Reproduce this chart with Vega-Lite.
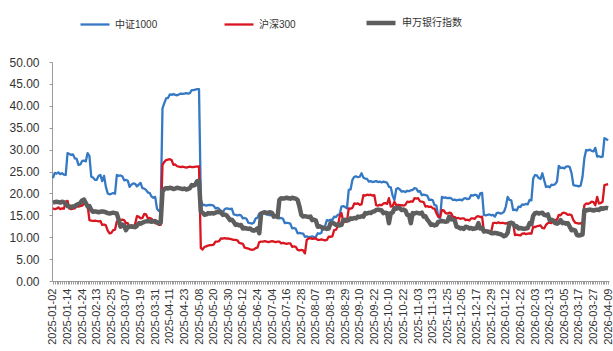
{
  "$schema": "https://vega.github.io/schema/vega-lite/v6.json",
  "width": 557,
  "height": 219,
  "autosize": "none",
  "padding": {"left": 52, "top": 62, "right": 4, "bottom": 70},
  "background": "white",
  "config": {"view": {"stroke": null}, "font": "Liberation Sans, Noto Sans CJK SC"},
  "data": {"values": [
{"d":"2025-01-02","中证1000":23.5,"沪深300":16.6,"申万银行指数":17.9},
{"d":"2025-01-03","中证1000":24.7,"沪深300":16.4,"申万银行指数":18.0},
{"d":"2025-01-06","中证1000":24.5,"沪深300":16.5,"申万银行指数":18.1},
{"d":"2025-01-07","中证1000":24.8,"沪深300":16.8,"申万银行指数":18.0},
{"d":"2025-01-08","中证1000":24.4,"沪深300":16.4,"申万银行指数":17.9},
{"d":"2025-01-09","中证1000":24.6,"沪深300":16.6,"申万银行指数":18.1},
{"d":"2025-01-10","中证1000":24.3,"沪深300":16.5,"申万银行指数":18.0},
{"d":"2025-01-13","中证1000":24.2,"沪深300":18.1,"申万银行指数":17.6},
{"d":"2025-01-14","中证1000":29.2,"沪深300":18.3,"申万银行指数":17.1},
{"d":"2025-01-15","中证1000":29.0,"沪深300":16.5,"申万银行指数":17.0},
{"d":"2025-01-16","中证1000":28.8,"沪深300":16.4,"申万银行指数":16.9},
{"d":"2025-01-17","中证1000":28.9,"沪深300":16.5,"申万银行指数":17.0},
{"d":"2025-01-20","中证1000":28.0,"沪深300":16.6,"申万银行指数":17.1},
{"d":"2025-01-21","中证1000":27.9,"沪深300":17.0,"申万银行指数":17.4},
{"d":"2025-01-22","中证1000":26.5,"沪深300":17.0,"申万银行指数":17.6},
{"d":"2025-01-23","中证1000":26.6,"沪深300":17.1,"申万银行指数":17.8},
{"d":"2025-01-24","中证1000":27.4,"沪深300":17.2,"申万银行指数":18.4},
{"d":"2025-01-27","中证1000":27.5,"沪深300":17.7,"申万银行指数":18.6},
{"d":"2025-02-05","中证1000":27.3,"沪深300":17.6,"申万银行指数":17.8},
{"d":"2025-02-06","中证1000":29.2,"沪深300":17.2,"申万银行指数":17.0},
{"d":"2025-02-07","中证1000":28.5,"沪深300":13.9,"申万银行指数":17.1},
{"d":"2025-02-10","中证1000":23.8,"沪深300":13.8,"申万银行指数":16.2},
{"d":"2025-02-11","中证1000":23.6,"沪深300":13.7,"申万银行指数":15.8},
{"d":"2025-02-12","中证1000":23.1,"沪深300":13.8,"申万银行指数":15.9},
{"d":"2025-02-13","中证1000":23.1,"沪深300":13.7,"申万银行指数":15.8},
{"d":"2025-02-14","中证1000":24.0,"沪深300":13.6,"申万银行指数":15.7},
{"d":"2025-02-17","中证1000":24.2,"沪深300":13.7,"申万银行指数":15.8},
{"d":"2025-02-18","中证1000":22.8,"沪深300":12.8,"申万银行指数":15.9},
{"d":"2025-02-19","中证1000":24.0,"沪深300":12.9,"申万银行指数":15.8},
{"d":"2025-02-20","中证1000":21.5,"沪深300":12.7,"申万银行指数":15.7},
{"d":"2025-02-21","中证1000":20.0,"沪深300":11.5,"申万银行指数":15.5},
{"d":"2025-02-24","中证1000":19.8,"沪深300":10.9,"申万银行指数":15.4},
{"d":"2025-02-25","中证1000":19.9,"沪深300":11.0,"申万银行指数":15.5},
{"d":"2025-02-26","中证1000":20.1,"沪深300":11.6,"申万银行指数":15.6},
{"d":"2025-02-27","中证1000":19.9,"沪深300":11.7,"申万银行指数":15.5},
{"d":"2025-02-28","中证1000":24.2,"沪深300":13.6,"申万银行指数":15.4},
{"d":"2025-03-03","中证1000":24.0,"沪深300":13.9,"申万银行指数":14.0},
{"d":"2025-03-04","中证1000":24.1,"沪深300":13.9,"申万银行指数":12.4},
{"d":"2025-03-05","中证1000":23.9,"沪深300":14.0,"申万银行指数":12.9},
{"d":"2025-03-06","中证1000":23.0,"沪深300":13.9,"申万银行指数":12.7},
{"d":"2025-03-07","中证1000":23.1,"沪深300":13.2,"申万银行指数":11.6},
{"d":"2025-03-10","中证1000":22.9,"沪深300":13.2,"申万银行指数":12.3},
{"d":"2025-03-11","中证1000":21.5,"沪深300":12.2,"申万银行指数":12.4},
{"d":"2025-03-12","中证1000":22.0,"沪深300":12.3,"申万银行指数":12.5},
{"d":"2025-03-13","中证1000":22.3,"沪深300":12.1,"申万银行指数":12.4},
{"d":"2025-03-14","中证1000":22.2,"沪深300":13.0,"申万银行指数":12.3},
{"d":"2025-03-17","中证1000":21.6,"沪深300":14.8,"申万银行指数":12.6},
{"d":"2025-03-18","中证1000":22.0,"沪深300":14.7,"申万银行指数":13.2},
{"d":"2025-03-19","中证1000":22.4,"沪深300":14.3,"申万银行指数":13.1},
{"d":"2025-03-20","中证1000":21.2,"沪深300":14.4,"申万银行指数":13.3},
{"d":"2025-03-21","中证1000":21.1,"沪深300":15.3,"申万银行指数":13.5},
{"d":"2025-03-24","中证1000":20.8,"沪深300":15.2,"申万银行指数":13.6},
{"d":"2025-03-25","中证1000":20.2,"沪深300":14.3,"申万银行指数":13.7},
{"d":"2025-03-26","中证1000":20.1,"沪深300":14.4,"申万银行指数":13.6},
{"d":"2025-03-27","中证1000":19.3,"沪深300":14.2,"申万银行指数":13.5},
{"d":"2025-03-28","中证1000":19.0,"沪深300":13.7,"申万银行指数":13.6},
{"d":"2025-03-31","中证1000":19.2,"沪深300":13.2,"申万银行指数":13.7},
{"d":"2025-04-01","中证1000":16.5,"沪深300":13.1,"申万银行指数":13.4},
{"d":"2025-04-02","中证1000":16.0,"沪深300":12.8,"申万银行指数":13.2},
{"d":"2025-04-03","中证1000":16.2,"沪深300":12.8,"申万银行指数":13.3},
{"d":"2025-04-07","中证1000":39.4,"沪深300":26.5,"申万银行指数":20.4},
{"d":"2025-04-08","中证1000":40.6,"沪深300":27.2,"申万银行指数":21.0},
{"d":"2025-04-09","中证1000":41.7,"沪深300":27.6,"申万银行指数":21.2},
{"d":"2025-04-10","中证1000":41.8,"沪深300":27.7,"申万银行指数":21.1},
{"d":"2025-04-11","中证1000":42.6,"沪深300":27.8,"申万银行指数":21.3},
{"d":"2025-04-14","中证1000":42.5,"沪深300":27.6,"申万银行指数":21.2},
{"d":"2025-04-15","中证1000":42.7,"沪深300":26.5,"申万银行指数":21.0},
{"d":"2025-04-16","中证1000":42.5,"沪深300":26.6,"申万银行指数":21.1},
{"d":"2025-04-17","中证1000":42.4,"沪深300":26.2,"申万银行指数":21.3},
{"d":"2025-04-18","中证1000":42.6,"沪深300":26.1,"申万银行指数":21.2},
{"d":"2025-04-21","中证1000":42.8,"沪深300":26.0,"申万银行指数":21.1},
{"d":"2025-04-22","中证1000":42.7,"沪深300":26.1,"申万银行指数":21.0},
{"d":"2025-04-23","中证1000":42.8,"沪深300":26.0,"申万银行指数":21.1},
{"d":"2025-04-24","中证1000":42.9,"沪深300":25.9,"申万银行指数":20.9},
{"d":"2025-04-25","中证1000":42.8,"沪深300":26.0,"申万银行指数":21.0},
{"d":"2025-04-28","中证1000":42.9,"沪深300":26.1,"申万银行指数":21.2},
{"d":"2025-04-29","中证1000":43.6,"沪深300":26.0,"申万银行指数":21.9},
{"d":"2025-04-30","中证1000":43.6,"沪深300":26.0,"申万银行指数":21.8},
{"d":"2025-05-06","中证1000":43.7,"沪深300":26.1,"申万银行指数":22.0},
{"d":"2025-05-07","中证1000":43.8,"沪深300":26.1,"申万银行指数":22.8},
{"d":"2025-05-08","中证1000":43.8,"沪深300":26.2,"申万银行指数":22.9},
{"d":"2025-05-09","中证1000":18.5,"沪深300":7.5,"申万银行指数":15.8},
{"d":"2025-05-12","中证1000":17.3,"沪深300":7.2,"申万银行指数":15.6},
{"d":"2025-05-13","中证1000":17.4,"沪深300":7.8,"申万银行指数":15.1},
{"d":"2025-05-14","中证1000":17.2,"沪深300":7.9,"申万银行指数":15.2},
{"d":"2025-05-15","中证1000":17.3,"沪深300":8.1,"申万银行指数":15.5},
{"d":"2025-05-16","中证1000":17.4,"沪深300":8.2,"申万银行指数":15.4},
{"d":"2025-05-19","中证1000":17.3,"沪深300":8.2,"申万银行指数":15.5},
{"d":"2025-05-20","中证1000":17.2,"沪深300":8.3,"申万银行指数":15.4},
{"d":"2025-05-21","中证1000":16.6,"沪深300":9.0,"申万银行指数":15.6},
{"d":"2025-05-22","中证1000":16.7,"沪深300":9.0,"申万银行指数":15.8},
{"d":"2025-05-23","中证1000":16.5,"沪深300":9.1,"申万银行指数":15.7},
{"d":"2025-05-26","中证1000":15.5,"沪深300":9.7,"申万银行指数":15.8},
{"d":"2025-05-27","中证1000":15.6,"沪深300":9.7,"申万银行指数":15.1},
{"d":"2025-05-28","中证1000":16.4,"沪深300":9.8,"申万银行指数":15.2},
{"d":"2025-05-29","中证1000":16.6,"沪深300":9.7,"申万银行指数":15.0},
{"d":"2025-05-30","中证1000":16.5,"沪深300":9.7,"申万银行指数":14.5},
{"d":"2025-06-03","中证1000":16.4,"沪深300":9.6,"申万银行指数":13.9},
{"d":"2025-06-04","中证1000":16.5,"沪深300":9.5,"申万银行指数":14.0},
{"d":"2025-06-05","中证1000":15.2,"沪深300":9.4,"申万银行指数":13.5},
{"d":"2025-06-06","中证1000":15.1,"沪深300":9.4,"申万银行指数":12.8},
{"d":"2025-06-09","中证1000":15.0,"沪深300":9.3,"申万银行指数":12.9},
{"d":"2025-06-10","中证1000":15.1,"沪深300":8.7,"申万银行指数":12.7},
{"d":"2025-06-11","中证1000":15.0,"沪深300":8.6,"申万银行指数":12.8},
{"d":"2025-06-12","中证1000":14.3,"沪深300":8.5,"申万银行指数":12.0},
{"d":"2025-06-13","中证1000":14.4,"沪深300":7.6,"申万银行指数":12.1},
{"d":"2025-06-16","中证1000":14.2,"沪深300":7.5,"申万银行指数":12.0},
{"d":"2025-06-17","中证1000":13.3,"沪深300":7.4,"申万银行指数":11.9},
{"d":"2025-06-18","中证1000":13.2,"沪深300":7.2,"申万银行指数":12.0},
{"d":"2025-06-19","中证1000":13.1,"沪深300":7.1,"申万银行指数":11.6},
{"d":"2025-06-20","中证1000":13.3,"沪深300":7.2,"申万银行指数":11.5},
{"d":"2025-06-23","中证1000":14.3,"沪深300":7.5,"申万银行指数":11.7},
{"d":"2025-06-24","中证1000":14.4,"沪深300":7.6,"申万银行指数":12.0},
{"d":"2025-06-25","中证1000":15.4,"沪深300":8.9,"申万银行指数":10.9},
{"d":"2025-06-26","中证1000":15.5,"沪深300":9.0,"申万银行指数":15.4},
{"d":"2025-06-27","中证1000":15.6,"沪深300":9.0,"申万银行指数":15.6},
{"d":"2025-06-30","中证1000":15.4,"沪深300":9.1,"申万银行指数":15.7},
{"d":"2025-07-01","中证1000":15.2,"沪深300":9.0,"申万银行指数":15.5},
{"d":"2025-07-02","中证1000":15.1,"沪深300":8.9,"申万银行指数":15.6},
{"d":"2025-07-03","中证1000":15.0,"沪深300":9.0,"申万银行指数":15.7},
{"d":"2025-07-04","中证1000":15.2,"沪深300":9.1,"申万银行指数":15.5},
{"d":"2025-07-07","中证1000":15.1,"沪深300":9.0,"申万银行指数":14.7},
{"d":"2025-07-08","中证1000":15.0,"沪深300":8.9,"申万银行指数":14.8},
{"d":"2025-07-09","中证1000":15.1,"沪深300":9.0,"申万银行指数":14.6},
{"d":"2025-07-10","中证1000":14.3,"沪深300":9.0,"申万银行指数":18.5},
{"d":"2025-07-11","中证1000":14.4,"沪深300":8.6,"申万银行指数":18.9},
{"d":"2025-07-14","中证1000":14.2,"沪深300":8.7,"申万银行指数":18.8},
{"d":"2025-07-15","中证1000":13.2,"沪深300":8.6,"申万银行指数":18.9},
{"d":"2025-07-16","中证1000":13.3,"沪深300":8.5,"申万银行指数":19.0},
{"d":"2025-07-17","中证1000":13.2,"沪深300":8.6,"申万银行指数":18.9},
{"d":"2025-07-18","中证1000":13.1,"沪深300":8.6,"申万银行指数":18.8},
{"d":"2025-07-21","中证1000":12.0,"沪深300":7.8,"申万银行指数":19.0},
{"d":"2025-07-22","中证1000":12.1,"沪深300":7.9,"申万银行指数":18.9},
{"d":"2025-07-23","中证1000":11.9,"沪深300":7.8,"申万银行指数":18.8},
{"d":"2025-07-24","中证1000":10.9,"沪深300":7.1,"申万银行指数":18.5},
{"d":"2025-07-25","中证1000":11.0,"沪深300":7.0,"申万银行指数":17.0},
{"d":"2025-07-28","中证1000":10.9,"沪深300":7.1,"申万银行指数":15.1},
{"d":"2025-07-29","中证1000":10.8,"沪深300":7.0,"申万银行指数":14.7},
{"d":"2025-07-30","中证1000":10.1,"沪深300":6.3,"申万银行指数":14.8},
{"d":"2025-07-31","中证1000":10.2,"沪深300":9.4,"申万银行指数":14.7},
{"d":"2025-08-01","中证1000":10.0,"沪深300":9.7,"申万银行指数":14.6},
{"d":"2025-08-04","中证1000":10.1,"沪深300":9.8,"申万银行指数":14.7},
{"d":"2025-08-05","中证1000":10.2,"沪深300":9.6,"申万银行指数":13.9},
{"d":"2025-08-06","中证1000":10.0,"沪深300":9.7,"申万银行指数":14.0},
{"d":"2025-08-07","中证1000":10.1,"沪深300":9.7,"申万银行指数":13.8},
{"d":"2025-08-08","中证1000":10.9,"沪深300":9.4,"申万银行指数":12.4},
{"d":"2025-08-11","中证1000":10.8,"沪深300":9.4,"申万银行指数":12.5},
{"d":"2025-08-12","中证1000":11.0,"沪深300":9.5,"申万银行指数":12.3},
{"d":"2025-08-13","中证1000":12.4,"沪深300":9.4,"申万银行指数":12.0},
{"d":"2025-08-14","中证1000":12.5,"沪深300":9.3,"申万银行指数":12.1},
{"d":"2025-08-15","中证1000":13.9,"沪深300":9.4,"申万银行指数":11.9},
{"d":"2025-08-18","中证1000":13.8,"沪深300":10.1,"申万银行指数":12.0},
{"d":"2025-08-19","中证1000":14.0,"沪深300":10.1,"申万银行指数":13.2},
{"d":"2025-08-20","中证1000":13.9,"沪深300":10.2,"申万银行指数":13.3},
{"d":"2025-08-21","中证1000":14.7,"沪深300":11.6,"申万银行指数":13.1},
{"d":"2025-08-22","中证1000":14.6,"沪深300":11.7,"申万银行指数":12.8},
{"d":"2025-08-25","中证1000":15.1,"沪深300":12.5,"申万银行指数":12.9},
{"d":"2025-08-26","中证1000":15.2,"沪深300":14.7,"申万银行指数":12.7},
{"d":"2025-08-27","中证1000":17.0,"沪深300":15.5,"申万银行指数":12.8},
{"d":"2025-08-28","中证1000":17.1,"沪深300":13.6,"申万银行指数":13.9},
{"d":"2025-08-29","中证1000":16.9,"沪深300":13.5,"申万银行指数":14.0},
{"d":"2025-09-01","中证1000":16.6,"沪深300":13.6,"申万银行指数":13.8},
{"d":"2025-09-02","中证1000":20.8,"沪深300":16.6,"申万银行指数":13.9},
{"d":"2025-09-03","中证1000":20.9,"沪深300":16.5,"申万银行指数":14.3},
{"d":"2025-09-04","中证1000":23.1,"沪深300":16.7,"申万银行指数":14.2},
{"d":"2025-09-05","中证1000":23.8,"沪深300":17.7,"申万银行指数":14.4},
{"d":"2025-09-08","中证1000":23.9,"沪深300":17.6,"申万银行指数":14.3},
{"d":"2025-09-09","中证1000":23.7,"沪深300":17.7,"申万银行指数":14.7},
{"d":"2025-09-10","中证1000":23.8,"沪深300":17.4,"申万银行指数":14.6},
{"d":"2025-09-11","中证1000":24.6,"沪深300":17.5,"申万银行指数":14.8},
{"d":"2025-09-12","中证1000":23.6,"沪深300":19.6,"申万银行指数":14.7},
{"d":"2025-09-15","中证1000":23.4,"沪深300":19.5,"申万银行指数":15.5},
{"d":"2025-09-16","中证1000":23.3,"沪深300":19.7,"申万银行指数":15.4},
{"d":"2025-09-17","中证1000":22.7,"沪深300":19.6,"申万银行指数":15.6},
{"d":"2025-09-18","中证1000":22.8,"沪深300":19.7,"申万银行指数":15.5},
{"d":"2025-09-19","中证1000":22.6,"沪深300":19.5,"申万银行指数":15.8},
{"d":"2025-09-22","中证1000":22.7,"沪深300":19.6,"申万银行指数":15.9},
{"d":"2025-09-23","中证1000":22.8,"沪深300":17.3,"申万银行指数":16.2},
{"d":"2025-09-24","中证1000":22.6,"沪深300":17.2,"申万银行指数":16.3},
{"d":"2025-09-25","中证1000":22.7,"沪深300":17.4,"申万银行指数":16.2},
{"d":"2025-09-26","中证1000":22.5,"沪深300":17.3,"申万银行指数":16.1},
{"d":"2025-09-29","中证1000":22.7,"沪深300":17.7,"申万银行指数":15.5},
{"d":"2025-09-30","中证1000":22.6,"沪深300":17.8,"申万银行指数":15.6},
{"d":"2025-10-09","中证1000":22.4,"沪深300":17.6,"申万银行指数":15.5},
{"d":"2025-10-10","中证1000":21.5,"沪深300":18.9,"申万银行指数":13.2},
{"d":"2025-10-13","中证1000":21.4,"沪深300":17.0,"申万银行指数":15.5},
{"d":"2025-10-14","中证1000":19.5,"沪深300":17.1,"申万银行指数":15.6},
{"d":"2025-10-15","中证1000":18.5,"沪深300":18.1,"申万银行指数":16.6},
{"d":"2025-10-16","中证1000":21.0,"沪深300":17.3,"申万银行指数":16.5},
{"d":"2025-10-17","中证1000":21.2,"沪深300":17.4,"申万银行指数":16.7},
{"d":"2025-10-20","中证1000":20.9,"沪深300":17.3,"申万银行指数":16.6},
{"d":"2025-10-21","中证1000":20.4,"沪深300":17.3,"申万银行指数":16.2},
{"d":"2025-10-22","中证1000":20.5,"沪深300":17.2,"申万银行指数":16.3},
{"d":"2025-10-23","中证1000":20.3,"沪深300":17.4,"申万银行指数":16.1},
{"d":"2025-10-24","中证1000":20.6,"沪深300":18.1,"申万银行指数":15.1},
{"d":"2025-10-27","中证1000":20.5,"沪深300":18.0,"申万银行指数":15.0},
{"d":"2025-10-28","中证1000":20.7,"沪深300":18.2,"申万银行指数":13.2},
{"d":"2025-10-29","中证1000":20.8,"沪深300":18.1,"申万银行指数":15.5},
{"d":"2025-10-30","中证1000":21.2,"沪深300":18.9,"申万银行指数":15.4},
{"d":"2025-10-31","中证1000":21.1,"沪深300":18.8,"申万银行指数":15.6},
{"d":"2025-11-03","中证1000":20.4,"沪深300":18.9,"申万银行指数":15.5},
{"d":"2025-11-04","中证1000":20.5,"沪深300":18.2,"申万银行指数":15.4},
{"d":"2025-11-05","中证1000":19.6,"沪深300":18.1,"申万银行指数":15.6},
{"d":"2025-11-06","中证1000":19.7,"沪深300":18.0,"申万银行指数":14.7},
{"d":"2025-11-07","中证1000":19.6,"沪深300":17.0,"申万银行指数":14.8},
{"d":"2025-11-10","中证1000":19.5,"沪深300":17.1,"申万银行指数":14.0},
{"d":"2025-11-11","中证1000":18.5,"沪深300":16.9,"申万银行指数":13.5},
{"d":"2025-11-12","中证1000":18.6,"沪深300":17.0,"申万银行指数":12.8},
{"d":"2025-11-13","中证1000":18.4,"沪深300":16.6,"申万银行指数":12.9},
{"d":"2025-11-14","中证1000":17.3,"沪深300":16.5,"申万银行指数":12.7},
{"d":"2025-11-17","中证1000":17.2,"沪深300":15.5,"申万银行指数":12.8},
{"d":"2025-11-18","中证1000":14.7,"沪深300":14.7,"申万银行指数":13.5},
{"d":"2025-11-19","中证1000":14.3,"沪深300":14.6,"申万银行指数":13.6},
{"d":"2025-11-20","中证1000":19.2,"沪深300":16.2,"申万银行指数":13.7},
{"d":"2025-11-21","中证1000":19.0,"沪深300":16.1,"申万银行指数":13.6},
{"d":"2025-11-24","中证1000":19.1,"沪深300":15.5,"申万银行指数":13.5},
{"d":"2025-11-25","中证1000":18.9,"沪深300":15.4,"申万银行指数":13.6},
{"d":"2025-11-26","中证1000":19.0,"沪深300":15.6,"申万银行指数":14.7},
{"d":"2025-11-27","中证1000":18.9,"沪深300":15.5,"申万银行指数":14.1},
{"d":"2025-11-28","中证1000":18.5,"沪深300":14.7,"申万银行指数":14.0},
{"d":"2025-12-01","中证1000":18.6,"沪深300":14.6,"申万银行指数":13.9},
{"d":"2025-12-02","中证1000":18.4,"沪深300":14.3,"申万银行指数":12.4},
{"d":"2025-12-03","中证1000":18.5,"沪深300":14.4,"申万银行指数":12.3},
{"d":"2025-12-04","中证1000":18.6,"沪深300":14.2,"申万银行指数":12.0},
{"d":"2025-12-05","中证1000":18.4,"沪深300":14.3,"申万银行指数":12.1},
{"d":"2025-12-08","中证1000":18.8,"沪深300":14.3,"申万银行指数":11.9},
{"d":"2025-12-09","中证1000":18.9,"沪深300":13.9,"申万银行指数":12.4},
{"d":"2025-12-10","中证1000":18.7,"沪深300":14.0,"申万银行指数":12.3},
{"d":"2025-12-11","中证1000":18.8,"沪深300":13.8,"申万银行指数":12.0},
{"d":"2025-12-12","中证1000":19.6,"沪深300":14.3,"申万银行指数":12.1},
{"d":"2025-12-15","中证1000":19.5,"沪深300":14.3,"申万银行指数":11.9},
{"d":"2025-12-16","中证1000":19.7,"沪深300":14.2,"申万银行指数":12.0},
{"d":"2025-12-17","中证1000":19.6,"沪深300":14.7,"申万银行指数":12.1},
{"d":"2025-12-18","中证1000":18.9,"沪深300":14.8,"申万银行指数":13.2},
{"d":"2025-12-19","中证1000":20.0,"沪深300":14.6,"申万银行指数":12.0},
{"d":"2025-12-22","中证1000":20.1,"沪深300":14.7,"申万银行指数":12.1},
{"d":"2025-12-23","中证1000":15.1,"沪深300":11.3,"申万银行指数":11.3},
{"d":"2025-12-24","中证1000":15.0,"沪深300":11.2,"申万银行指数":11.4},
{"d":"2025-12-25","中证1000":15.1,"沪深300":11.4,"申万银行指数":11.3},
{"d":"2025-12-26","中证1000":15.2,"沪深300":11.3,"申万银行指数":11.2},
{"d":"2025-12-29","中证1000":15.0,"沪深300":11.2,"申万银行指数":10.9},
{"d":"2025-12-30","中证1000":15.1,"沪深300":13.2,"申万银行指数":10.9},
{"d":"2025-12-31","中证1000":14.7,"沪深300":13.3,"申万银行指数":11.0},
{"d":"2026-01-05","中证1000":15.5,"沪深300":13.2,"申万银行指数":10.9},
{"d":"2026-01-06","中证1000":15.6,"沪深300":13.4,"申万银行指数":10.8},
{"d":"2026-01-07","中证1000":15.4,"沪深300":13.2,"申万银行指数":10.7},
{"d":"2026-01-08","中证1000":15.5,"沪深300":13.3,"申万银行指数":10.5},
{"d":"2026-01-09","中证1000":15.8,"沪深300":13.2,"申万银行指数":10.2},
{"d":"2026-01-12","中证1000":17.0,"沪深300":13.1,"申万银行指数":10.4},
{"d":"2026-01-13","中证1000":19.2,"沪深300":13.3,"申万银行指数":11.0},
{"d":"2026-01-14","中证1000":18.5,"沪深300":13.2,"申万银行指数":13.2},
{"d":"2026-01-15","中证1000":18.4,"沪深300":13.4,"申万银行指数":13.3},
{"d":"2026-01-16","中证1000":16.2,"沪深300":13.2,"申万银行指数":13.1},
{"d":"2026-01-19","中证1000":16.3,"沪深300":10.5,"申万银行指数":12.4},
{"d":"2026-01-20","中证1000":16.1,"沪深300":10.6,"申万银行指数":12.5},
{"d":"2026-01-21","中证1000":17.0,"沪深300":10.5,"申万银行指数":12.0},
{"d":"2026-01-22","中证1000":16.9,"沪深300":10.4,"申万银行指数":12.1},
{"d":"2026-01-23","中证1000":17.5,"沪深300":10.8,"申万银行指数":12.0},
{"d":"2026-01-26","中证1000":17.4,"沪深300":10.9,"申万银行指数":11.9},
{"d":"2026-01-27","中证1000":17.6,"沪深300":10.7,"申万银行指数":12.0},
{"d":"2026-01-28","中证1000":17.5,"沪深300":10.8,"申万银行指数":12.1},
{"d":"2026-01-29","中证1000":18.5,"沪深300":10.9,"申万银行指数":13.2},
{"d":"2026-01-30","中证1000":18.4,"沪深300":10.8,"申万银行指数":13.0},
{"d":"2026-02-02","中证1000":23.4,"沪深300":12.4,"申万银行指数":14.9},
{"d":"2026-02-03","中证1000":24.2,"沪深300":12.3,"申万银行指数":15.5},
{"d":"2026-02-04","中证1000":24.1,"沪深300":12.5,"申万银行指数":15.6},
{"d":"2026-02-05","中证1000":23.5,"沪深300":12.6,"申万银行指数":15.4},
{"d":"2026-02-06","中证1000":23.3,"沪深300":12.7,"申万银行指数":15.5},
{"d":"2026-02-09","中证1000":24.6,"沪深300":12.1,"申万银行指数":15.6},
{"d":"2026-02-10","中证1000":23.0,"沪深300":12.0,"申万银行指数":15.1},
{"d":"2026-02-11","中证1000":21.5,"沪深300":12.8,"申万银行指数":15.0},
{"d":"2026-02-12","中证1000":21.6,"沪深300":13.2,"申万银行指数":15.2},
{"d":"2026-02-13","中证1000":21.4,"沪深300":13.3,"申万银行指数":13.9},
{"d":"2026-02-24","中证1000":22.0,"沪深300":13.2,"申万银行指数":14.0},
{"d":"2026-02-25","中证1000":21.9,"沪深300":13.9,"申万银行指数":13.8},
{"d":"2026-02-26","中证1000":22.1,"沪深300":13.9,"申万银行指数":13.2},
{"d":"2026-02-27","中证1000":22.7,"沪深300":14.0,"申万银行指数":13.1},
{"d":"2026-03-02","中证1000":26.3,"沪深300":15.1,"申万银行指数":13.3},
{"d":"2026-03-03","中证1000":25.8,"沪深300":15.0,"申万银行指数":13.9},
{"d":"2026-03-04","中证1000":25.9,"沪深300":15.5,"申万银行指数":13.2},
{"d":"2026-03-05","中证1000":25.7,"沪深300":15.6,"申万银行指数":13.3},
{"d":"2026-03-06","中证1000":26.1,"沪深300":15.4,"申万银行指数":13.1},
{"d":"2026-03-09","中证1000":26.2,"沪深300":15.1,"申万银行指数":13.2},
{"d":"2026-03-10","中证1000":26.0,"沪深300":15.2,"申万银行指数":12.4},
{"d":"2026-03-11","中证1000":24.6,"沪深300":15.0,"申万银行指数":11.6},
{"d":"2026-03-12","中证1000":21.9,"沪深300":13.9,"申万银行指数":11.7},
{"d":"2026-03-13","中证1000":21.8,"沪深300":13.3,"申万银行指数":11.5},
{"d":"2026-03-16","中证1000":21.7,"沪深300":13.2,"申万银行指数":10.5},
{"d":"2026-03-17","中证1000":21.6,"沪深300":13.1,"申万银行指数":10.4},
{"d":"2026-03-18","中证1000":21.8,"沪深300":13.2,"申万银行指数":10.5},
{"d":"2026-03-19","中证1000":23.8,"沪深300":12.8,"申万银行指数":10.6},
{"d":"2026-03-20","中证1000":28.0,"沪深300":17.3,"申万银行指数":16.2},
{"d":"2026-03-23","中证1000":29.9,"沪深300":17.7,"申万银行指数":16.1},
{"d":"2026-03-24","中证1000":29.8,"沪深300":17.6,"申万银行指数":16.2},
{"d":"2026-03-25","中证1000":30.0,"沪深300":17.8,"申万银行指数":16.3},
{"d":"2026-03-26","中证1000":29.7,"沪深300":18.1,"申万银行指数":16.2},
{"d":"2026-03-27","中证1000":29.6,"沪深300":18.0,"申万银行指数":16.1},
{"d":"2026-03-30","中证1000":30.4,"沪深300":17.3,"申万银行指数":16.2},
{"d":"2026-03-31","中证1000":28.4,"沪深300":19.2,"申万银行指数":16.3},
{"d":"2026-04-01","中证1000":28.5,"沪深300":17.7,"申万银行指数":16.2},
{"d":"2026-04-02","中证1000":28.3,"沪深300":17.8,"申万银行指数":16.6},
{"d":"2026-04-03","中证1000":28.4,"沪深300":18.1,"申万银行指数":16.5},
{"d":"2026-04-07","中证1000":32.6,"沪深300":21.9,"申万银行指数":16.6},
{"d":"2026-04-08","中证1000":32.4,"沪深300":22.0,"申万银行指数":16.7},
{"d":"2026-04-09","中证1000":32.1,"沪深300":22.1,"申万银行指数":16.6}
  ]},
  "transform": [
    {"fold": ["中证1000", "沪深300", "申万银行指数"], "as": ["series", "value"]}
  ],
  "mark": {"type": "line", "strokeJoin": "round", "strokeCap": "butt"},
  "encoding": {
    "x": {
      "field": "d", "type": "ordinal",
      "scale": {"type": "point", "padding": 0.5},
      "axis": {
        "title": null,
        "labelAngle": -90,
        "labelExpr": "round(datum.index*304) % 8 == 0 ? datum.label : ''",
        "labelOverlap": false,
        "labelFontSize": 11,
        "labelColor": "#333333",
        "labelPadding": 4,
        "tickSize": 3,
        "tickColor": "#9a9a9a",
        "domainColor": "#9a9a9a",
        "grid": false
      }
    },
    "y": {
      "field": "value", "type": "quantitative",
      "scale": {"domain": [0, 50], "nice": false, "zero": true},
      "axis": {
        "title": null,
        "values": [0, 5, 10, 15, 20, 25, 30, 35, 40, 45, 50],
        "format": ".2f",
        "grid": false,
        "labelFontSize": 12,
        "labelColor": "#333333",
        "labelPadding": 10,
        "tickSize": 3,
        "tickColor": "#9a9a9a",
        "domainColor": "#9a9a9a"
      }
    },
    "color": {
      "field": "series", "type": "nominal",
      "scale": {"domain": ["中证1000", "沪深300", "申万银行指数"], "range": ["#3579C4", "#D9151F", "#5E5E5E"]},
      "legend": {
        "title": null,
        "orient": "none",
        "legendX": 27,
        "legendY": -56,
        "direction": "horizontal",
        "symbolType": "stroke",
        "symbolSize": 841,
        "columnPadding": 61,
        "labelOffset": 4,
        "labelFontSize": 10,
        "labelColor": "#333333"
      }
    },
    "strokeWidth": {
      "field": "series", "type": "nominal",
      "scale": {"type": "ordinal", "domain": ["中证1000", "沪深300", "申万银行指数"], "range": [2.3, 2.3, 4.5]},
      "legend": {
        "title": null,
        "orient": "none",
        "legendX": 27,
        "legendY": -56,
        "direction": "horizontal",
        "symbolType": "stroke",
        "symbolSize": 841,
        "columnPadding": 61,
        "labelOffset": 4,
        "labelFontSize": 10,
        "labelColor": "#333333"
      }
    }
  }
}
